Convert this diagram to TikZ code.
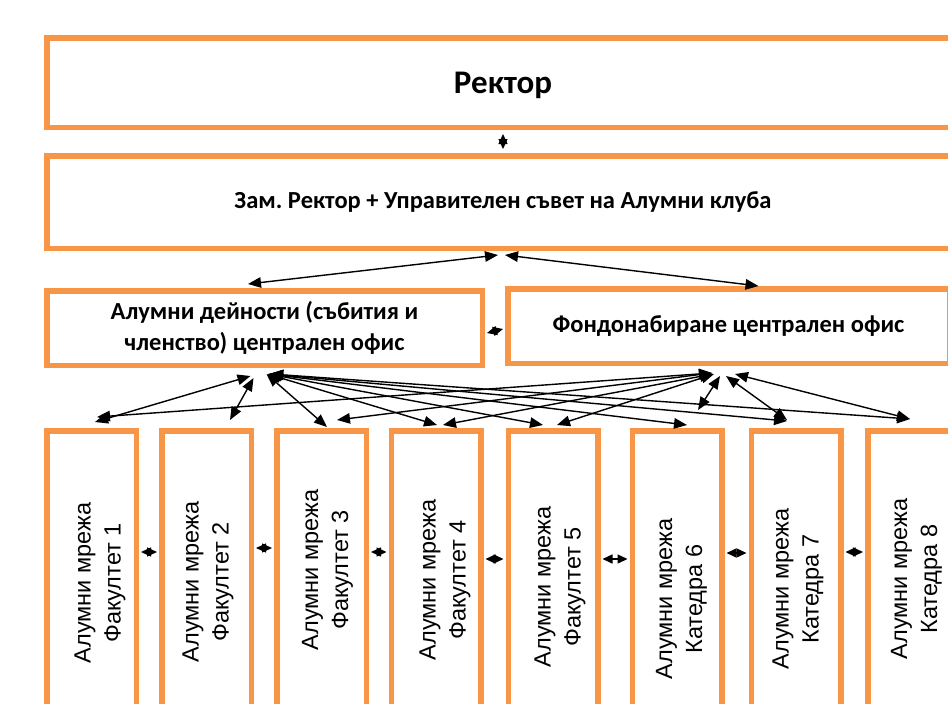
\documentclass[tikz,border=0pt]{standalone}
\usepackage{fontspec}
\setmainfont{Carlito}
\newfontfamily\arialfont{Liberation Sans}
\usetikzlibrary{arrows.meta,positioning}
\definecolor{boxorange}{RGB}{247,150,70}

\begin{document}
\begin{tikzpicture}[x=1pt, y=-1pt,
    box/.style={rectangle, draw=boxorange, line width=5.5pt, inner sep=0pt, align=center, fill=white},
    headbox/.style={box, font=\bfseries\fontsize{24.5}{30}\selectfont},
    netbox/.style={box, minimum width=89.5pt, minimum height=308.5pt},
    nettext/.style={rotate=90, align=center, inner sep=0pt, font=\arialfont\fontsize{23.5}{30}\selectfont},
    link/.style={{Triangle[length=13pt,width=10.5pt]}-{Triangle[length=13pt,width=10.5pt]}, line width=1.4pt},
    nearlink/.style={{Triangle[length=10pt,width=9pt]}-{Triangle[length=10pt,width=9pt]}, line width=1.4pt}
  ]
  \useasboundingbox (0,0) rectangle (948,704);

  % --- management ---
  \node[headbox, minimum width=912.5pt, minimum height=89.5pt,
        font=\bfseries\fontsize{33}{38}\selectfont] (rek) at (503,82.5)
    {\raisebox{-3pt}[\height][\depth]{Ректор}};
  \node[headbox, minimum width=912.5pt, minimum height=92.5pt] (zam) at (503,202)
    {Зам.\ Ректор + Управителен съвет на Алумни клуба};

  % --- central offices ---
  \node[headbox, minimum width=435.5pt, minimum height=74.5pt, font=\bfseries\fontsize{24.5}{31}\selectfont]
    (dej) at (264.5,328) {Алумни дейности (събития и\\членство) централен офис};
  \node[headbox, minimum width=441.5pt, minimum height=74.5pt, font=\bfseries\fontsize{24.5}{31}\selectfont]
    (fon) at (728.5,326) {Фондонабиране централен офис};

  % --- alumni networks ---
  \foreach \i/\x/\dx/\dy/\lbl in {1/91.5/8.5/-2/Факултет 1, 2/206.5/1.5/-3/Факултет 2,
                                  3/321.5/6/-15/Факултет 3, 4/436/9/-5/Факултет 4,
                                  5/553/7/2/Факултет 5, 6/677/4.5/14/Катедра 6,
                                  7/796/2/4/Катедра 7, 8/912.5/4/-6/Катедра 8}{
    \node[netbox] (f\i) at (\x,585) {};
    \node[nettext] (n\i) at ([shift={(\dx,\dy)}]f\i.center) {Алумни мрежа\\\lbl};
  }

  % links between levels
  \draw[nearlink] ([yshift=-4pt]rek.south) -- ([yshift=4pt]zam.north);
  \draw[link] ([shift={(-5pt,-4pt)}]zam.south) -- ([shift={(-16.5pt,4pt)}]dej.north);
  \draw[link] ([shift={(2pt,-4pt)}]zam.south) -- ([shift={(30pt,0pt)}]fon.north);
  \draw[nearlink] ([xshift=2pt,yshift=-5pt]dej.east) -- ([xshift=-2pt,yshift=-3pt]fon.west);

  % offices to networks
  \foreach \b/\sx/\sy/\tx/\ty in {1/-14/-8/3.5/6, 2/-11/-10/23.5/8, 3/2/-6/5.5/1, 4/3/-6/1/3,
                                  5/4/-6/-10/3, 6/4/-6/10/3, 7/5/-6/-9/7, 8/6/-6/-2.5/9}
    \draw[link] ([shift={(\sx pt,\sy pt)}]dej.south) -- ([shift={(\tx pt,\ty pt)}]f\b.north);
  \foreach \b/\sx/\sy/\tx/\ty in {1/-16.5/-7/5.5/11, 3/-16.5/-7/15.5/8, 4/-15.5/-8/7/3, 5/-14.5/-8/4/3,
                                  6/-8.5/-10/21/18, 7/-2.5/-10/-9/8, 8/6.5/-8/-2.5/9}
    \draw[link] ([shift={(\sx pt,\sy pt)}]fon.south) -- ([shift={(\tx pt,\ty pt)}]f\b.north);

  % neighbouring networks
  \foreach \a/\b/\dy in {1/2/33, 2/3/37, 3/4/33, 4/5/26, 5/6/26, 6/7/32, 7/8/33}
    \draw[nearlink] ([shift={(2pt,\dy pt)}]f\a.east) -- ([shift={(-2pt,\dy pt)}]f\b.west);
\end{tikzpicture}
\end{document}
